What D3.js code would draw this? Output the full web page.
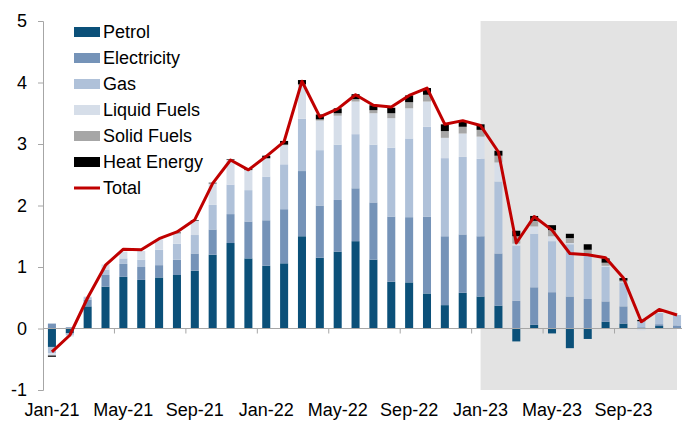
<!DOCTYPE html>
<html>
<head>
<meta charset="utf-8">
<script src="https://cdn.jsdelivr.net/npm/d3@7"></script>
<style>
  body { margin: 0; background: #fff; }
  svg text { font-family: "Liberation Sans", Arial, sans-serif; fill: #000; }
</style>
</head>
<body>
<div id="energy_viz"></div>
<script>
//categories
const months = ["Jan-21","Feb-21","Mar-21","Apr-21","May-21","Jun-21","Jul-21","Aug-21","Sep-21","Oct-21","Nov-21","Dec-21",
    "Jan-22","Feb-22","Mar-22","Apr-22","May-22","Jun-22","Jul-22","Aug-22","Sep-22","Oct-22","Nov-22","Dec-22",
    "Jan-23","Feb-23","Mar-23","Apr-23","May-23","Jun-23","Jul-23","Aug-23","Sep-23","Oct-23","Nov-23","Dec-23"];
const tick_labels = ["Jan-21","May-21","Sep-21","Jan-22","May-22","Sep-22","Jan-23","May-23","Sep-23"];
const y_ticks = [-1, 0, 1, 2, 3, 4, 5];

//series (contributions, pp)
const petrol = [-0.30,-0.08,0.36,0.68,0.84,0.79,0.83,0.87,0.94,1.20,1.39,1.14,1.02,1.06,1.50,1.15,1.25,1.42,1.12,0.76,0.75,0.57,0.38,0.58,0.52,0.37,-0.21,0.06,-0.08,-0.32,-0.17,0.11,0.08,-0.01,0.04,0.00];
const electricity = [0.08,0.02,0.11,0.19,0.21,0.21,0.20,0.25,0.28,0.41,0.47,0.60,0.74,0.88,1.06,0.85,0.84,0.86,0.93,1.06,1.06,1.25,1.12,0.95,0.98,0.85,0.45,0.61,0.59,0.52,0.48,0.33,0.28,0.02,0.03,0.05];
const gas = [-0.10,-0.03,0.04,0.09,0.09,0.12,0.25,0.26,0.30,0.40,0.48,0.51,0.71,0.73,0.85,0.90,0.90,0.88,0.94,1.12,1.28,1.46,1.27,1.26,1.26,1.17,0.90,0.87,0.83,0.85,0.70,0.56,0.39,0.09,0.18,0.17];
const liquid_fuels = [-0.04,-0.02,0.01,0.08,0.11,0.14,0.17,0.17,0.23,0.35,0.40,0.32,0.29,0.31,0.54,0.48,0.47,0.53,0.51,0.48,0.49,0.41,0.33,0.38,0.36,0.31,0.03,0.12,0.08,0.02,0.01,0.02,0.01,-0.02,0.00,0.00];
const solid_fuels = [0,0,0,0,0,0,0,0,0,0,0,0.01,0.01,0.01,0.02,0.02,0.04,0.04,0.05,0.08,0.10,0.11,0.11,0.11,0.11,0.11,0.12,0.09,0.10,0.08,0.09,0.05,0.02,0.01,0,0];
const heat_energy = [-0.02,0,0,0,0,0,0,0.01,0.01,0.01,0.01,0.02,0.04,0.06,0.07,0.08,0.08,0.08,0.08,0.09,0.11,0.11,0.11,0.09,0.09,0.08,0.09,0.08,0.08,0.07,0.09,0.07,0.04,0.02,0,0];
const total = [-0.38,-0.11,0.50,1.03,1.29,1.28,1.46,1.57,1.77,2.36,2.74,2.58,2.80,3.04,4.02,3.44,3.57,3.80,3.63,3.60,3.79,3.91,3.32,3.38,3.30,2.87,1.39,1.82,1.60,1.22,1.20,1.15,0.82,0.11,0.31,0.22];

//shaded period
const shade_months = ["Jan-23","Dec-23"];

const series_names = ["Petrol","Electricity","Gas","Liquid Fuels","Solid Fuels","Heat Energy"];
const series_values = [petrol, electricity, gas, liquid_fuels, solid_fuels, heat_energy];
const series_colors = ["#0b5079","#7593b8","#afc1d9","#d6dee9","#a6a6a6","#000000"];

//dimensions
const width = 682, height = 421;
const left = 43, step = 17.86;

const svg = d3.select("#energy_viz")
    .append("svg")
        .attr("width", width)
        .attr("height", height);

//scales
const x = d3.scaleBand()
    .domain(months)
    .range([left, left + step * months.length])
    .paddingInner(0.55)
    .paddingOuter(0.275);

const y = d3.scaleLinear()
    .domain([-1, 5])
    .range([390, 21]);

const cx = d => x(d) + x.bandwidth() / 2;
//left edge of a category's slot
const slot = d => x(d) - (x.step() - x.bandwidth()) / 2;

//shaded area (drawn first, behind bars)
const shade_data = months.slice(months.indexOf(shade_months[0]), months.indexOf(shade_months[1]) + 1);
svg.append("path")
    .datum(shade_data)
    .attr("fill", "#e3e3e3")
    .attr("d", d3.area().x(d => cx(d)).y0(y(-1)).y1(y(5)));

//stack data
const rows = months.map((m, i) => {
    const r = {month: m};
    series_names.forEach((s, j) => r[s] = series_values[j][i]);
    return r;
});
const stacked = d3.stack()
    .keys(series_names)
    .offset(d3.stackOffsetDiverging)(rows);

svg.append("g")
    .selectAll("g")
    .data(stacked)
    .join("g")
        .attr("fill", (d, i) => series_colors[i])
    .selectAll("rect")
    .data(d => d)
    .join("rect")
        .attr("x", d => x(d.data.month))
        .attr("width", x.bandwidth())
        .attr("y", d => y(Math.max(d[0], d[1])))
        .attr("height", d => Math.abs(y(d[0]) - y(d[1])));

//zero axis line + boundary ticks
svg.append("line")
    .attr("x1", left).attr("x2", left + step * months.length)
    .attr("y1", y(0)).attr("y2", y(0))
    .attr("stroke", "#a6a6a6").attr("stroke-width", 1);

svg.append("g")
    .selectAll("line")
    .data(tick_labels.slice(1))
    .join("line")
        .attr("x1", d => slot(d))
        .attr("x2", d => slot(d))
        .attr("y1", y(0)).attr("y2", y(0) + 5)
        .attr("stroke", "#a6a6a6");

//x labels
const x_axis = svg.append("g")
    .attr("transform", `translate(0, ${y(-1)})`)
    .call(d3.axisBottom(x).tickValues(tick_labels).tickSize(0).tickPadding(13));
x_axis.select(".domain").remove();
x_axis.selectAll("text")
    .style("font-size", "18px")
    .attr("font-family", null);

//y axis
const y_axis = svg.append("g")
    .attr("transform", `translate(${left}, 0)`)
    .call(d3.axisLeft(y).tickValues(y_ticks).tickSize(5).tickPadding(11).tickFormat(d => String(d)));
y_axis.select(".domain").attr("stroke", "#a6a6a6");
y_axis.selectAll(".tick line").attr("stroke", "#a6a6a6");
y_axis.selectAll("text")
    .style("font-size", "18px")
    .attr("font-family", null);

//total line
svg.append("path")
    .datum(total)
    .attr("fill", "none")
    .attr("stroke", "#c00000")
    .attr("stroke-width", 3)
    .attr("stroke-linejoin", "round")
    .attr("d", d3.line().x((d, i) => cx(months[i])).y(d => y(d)));

//legend
const legend = svg.append("g").attr("transform", "translate(74, 32)");
series_names.forEach((s, i) => {
    legend.append("rect")
        .attr("x", 0).attr("y", i * 26 - 5)
        .attr("width", 26).attr("height", 10)
        .attr("fill", series_colors[i]);
    legend.append("text")
        .attr("x", 29).attr("y", i * 26)
        .attr("dy", "0.35em")
        .style("font-size", "18px")
        .text(s);
});
legend.append("line")
    .attr("x1", 0).attr("x2", 26)
    .attr("y1", 6 * 26).attr("y2", 6 * 26)
    .attr("stroke", "#c00000").attr("stroke-width", 3);
legend.append("text")
    .attr("x", 29).attr("y", 6 * 26)
    .attr("dy", "0.35em")
    .style("font-size", "18px")
    .text("Total");
</script>
</body>
</html>
